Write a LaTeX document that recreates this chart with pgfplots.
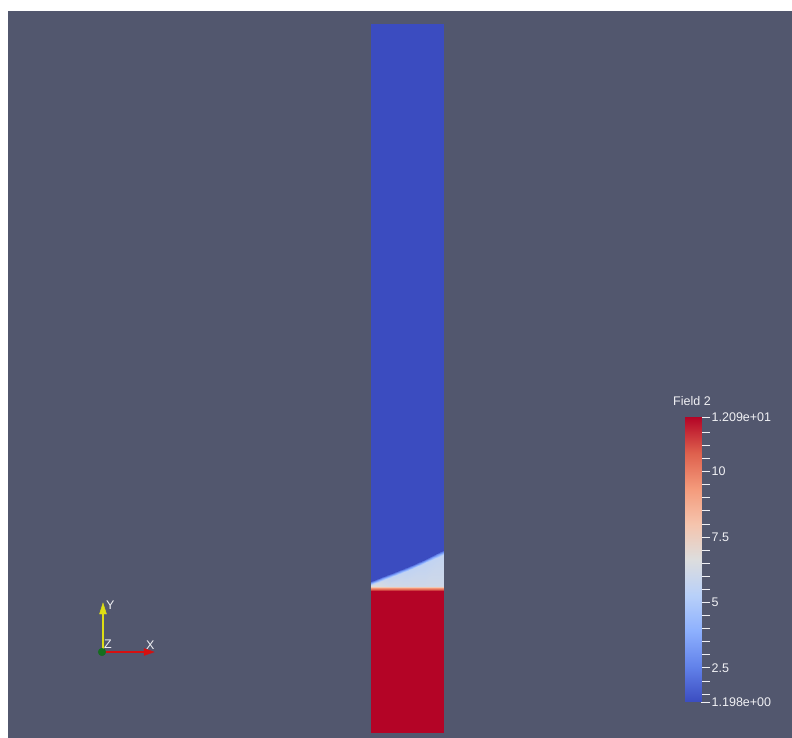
\documentclass[border=0pt]{standalone}
\usepackage{pgfplots}
\usepackage{pgfplotstable}
\pgfplotsset{compat=1.18}
\usepackage{fontspec}
\setmainfont{Liberation Sans}
\definecolor{pvbg}{RGB}{82,87,110}
\definecolor{pvtext}{RGB}{240,240,244}
\definecolor{triY}{RGB}{222,222,20}
\definecolor{triX}{RGB}{214,16,16}
\definecolor{triZ}{RGB}{20,110,30}
\pgfplotsset{
  colormap={coolwarm}{rgb255=(59,76,192) rgb255=(98,130,234) rgb255=(141,176,254)
    rgb255=(184,208,249) rgb255=(221,221,221) rgb255=(245,196,173)
    rgb255=(244,154,123) rgb255=(222,96,77) rgb255=(180,4,38)},
}

% Field 2 on the column, nodes given as (x, y, value) in screen pixels, 5 nodes per row
\pgfplotstableread{
x y f
371 24 1.198
389 24 1.198
407 24 1.198
425 24 1.198
443 24 1.198
371 581 1.198
389 574 1.198
407 567 1.198
425 559 1.198
443 550 1.198
371 585 6.0
389 578 5.7
407 571 5.6
425 563 5.6
443 555 5.7
371 586 6.6
389 585.5 6.2
407 585.5 6.1
425 585.5 6.1
443 585.5 6.1
371 588 9.5
389 588 9.5
407 588 9.5
425 588 9.5
443 588 9.5
371 591 12.09
389 591 12.09
407 591 12.09
425 591 12.09
443 591 12.09
371 732 12.09
389 732 12.09
407 732 12.09
425 732 12.09
443 732 12.09
}\fieldtable

% colour bar samples, 2 nodes per row
\pgfplotstableread{
x y c
0 1.198 1.198
1 1.198 1.198
0 2.5 2.5
1 2.5 2.5
0 5 5
1 5 5
0 6.644 6.644
1 6.644 6.644
0 7.5 7.5
1 7.5 7.5
0 10 10
1 10 10
0 12.09 12.09
1 12.09 12.09
}\bartable

\begin{document}
\begin{tikzpicture}
\begin{axis}[
  at={(0,0)}, anchor=south west,
  scale only axis, width=792pt, height=738pt,
  xmin=0, xmax=792, ymin=0, ymax=738, y dir=reverse,
  hide axis, clip=false,
  point meta min=1.198, point meta max=12.09,
]
  % canvas and view background
  \addplot[fill=white, draw=none] coordinates {(0,0) (792,0) (792,738) (0,738)} -- cycle;
  \addplot[fill=pvbg, draw=none] coordinates {(8,11) (792,11) (792,738) (8,738)} -- cycle;

  % column coloured by Field 2
  \addplot[surf, shader=interp, mesh/cols=5, point meta=explicit]
    table[x=x, y=y, meta=f] {\fieldtable};

  % orientation triad
  \addplot[draw=triY, line width=1.2pt] coordinates {(103,652) (103,612)};
  \addplot[fill=triY, draw=triY] coordinates {(99.5,614) (106.5,614) (103,603)} -- cycle;
  \addplot[draw=triX, line width=1.2pt] coordinates {(103,652) (146,652)};
  \addplot[fill=triX, draw=triX] coordinates {(144,648.5) (144,655.5) (154,652)} -- cycle;
  \addplot[only marks, mark=*, mark size=3.8pt, color=triZ] coordinates {(102,652)};
  \node[text=pvtext, font=\fontsize{12.5}{13}\selectfont, anchor=west, inner sep=0pt] at (axis cs:106,605) {Y};
  \node[text=pvtext, font=\fontsize{12.5}{13}\selectfont, anchor=west, inner sep=0pt] at (axis cs:104,644) {Z};
  \node[text=pvtext, font=\fontsize{12.5}{13}\selectfont, anchor=west, inner sep=0pt] at (axis cs:146,645) {X};

  % colour bar title
  \node[text=pvtext, font=\fontsize{12.5}{14}\selectfont, anchor=west, inner sep=0pt] at (axis cs:673,401) {Field 2};
\end{axis}

% colour bar
\begin{axis}[
  at={(685pt,36pt)}, anchor=south west,
  scale only axis, width=16pt, height=285pt,
  xmin=0, xmax=1, ymin=1.198, ymax=12.09,
  point meta min=1.198, point meta max=12.09,
  axis y line*=right, hide x axis,
  axis line style={draw=none},
  ytick={1.198,2.5,5,7.5,10,12.09},
  yticklabels={1.198e+00,2.5,5,7.5,10,1.209e+01},
  minor ytick={1.5,2,3,3.5,4,4.5,5.5,6,6.5,7,8,8.5,9,9.5,10.5,11,11.5},
  tick align=outside,
  major tick length=9pt, minor tick length=9pt,
  every tick/.style={draw=pvtext, line width=0.9pt},
  yticklabel style={text=pvtext, font=\fontsize{12.5}{14}\selectfont, inner sep=1.5pt},
]
  \addplot[surf, shader=interp, mesh/cols=2, point meta=explicit]
    table[x=x, y=y, meta=c] {\bartable};
\end{axis}
\end{tikzpicture}
\end{document}
